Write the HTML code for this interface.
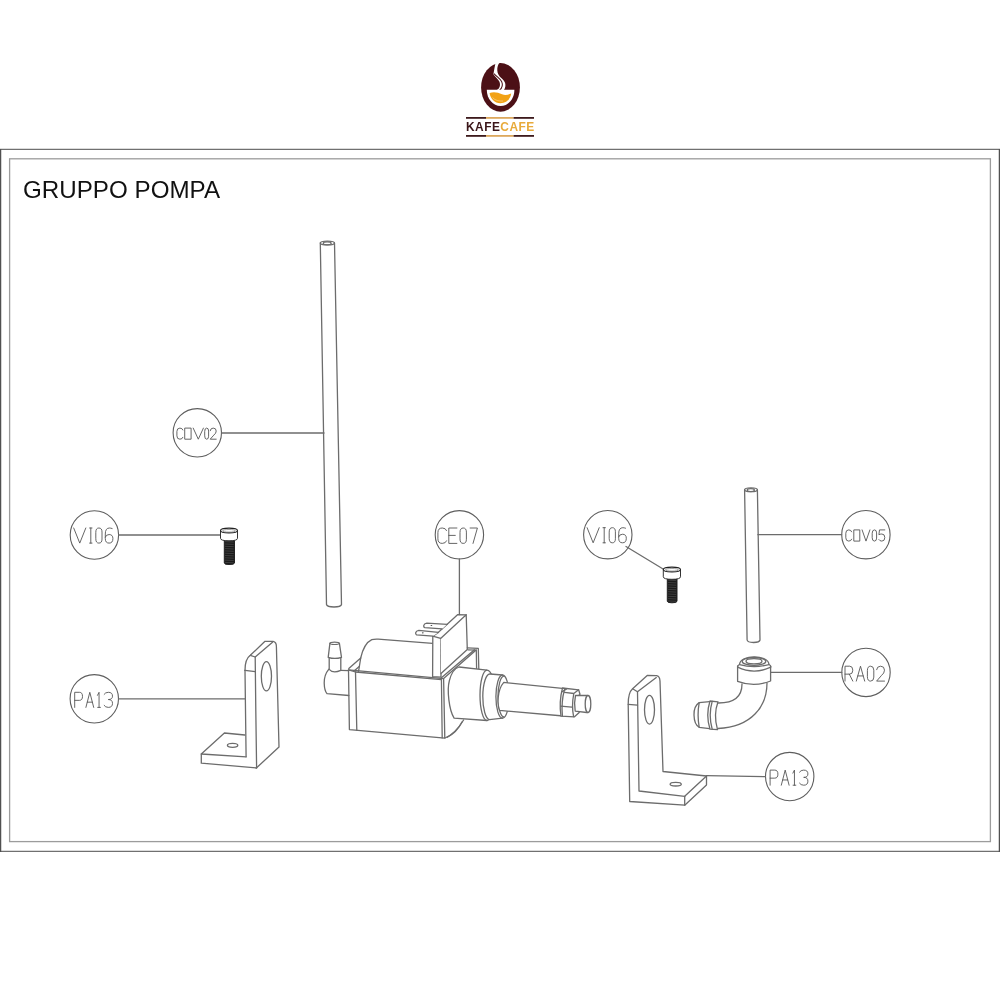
<!DOCTYPE html>
<html><head><meta charset="utf-8">
<style>
html,body{margin:0;padding:0;background:#fff;}
body{width:1000px;height:1000px;position:relative;overflow:hidden;font-family:"Liberation Sans",sans-serif;}
svg{position:absolute;left:0;top:0;will-change:transform;}
</style></head>
<body>
<svg width="1000" height="1000" viewBox="0 0 1000 1000">
<path d="M0,149.4 L1000,149.4 M0,851.4 L1000,851.4" stroke="#707070" stroke-width="1.2" fill="none"/>
<path d="M0.6,149 L0.6,852 M999.4,149 L999.4,852" stroke="#505050" stroke-width="1.3" fill="none"/>
<rect x="9.6" y="158.8" width="980.8" height="682.8" fill="none" stroke="#9c9c9c" stroke-width="1.3"/>
<text x="23" y="198" font-family="Liberation Sans" font-size="23.8" fill="#111" transform="translate(23,0) scale(1.0167,1) translate(-23,0)">GRUPPO POMPA</text>
<circle cx="197.3" cy="432.8" r="24.2" fill="none" stroke="#5e5e5e" stroke-width="1.1"/>
<g fill="none" stroke="#555" stroke-width="0.9" stroke-linecap="round" stroke-linejoin="round"><path transform="translate(176.9,428.1) scale(0.600,0.740)" d="M10,2.5 Q9,0 5,0 Q0,0 0,4.5 L0,10.5 Q0,15 5,15 Q9,15 10,12.5" vector-effect="non-scaling-stroke"/><path transform="translate(185.1,428.1) scale(0.600,0.740)" d="M0,0 L10,0 L10,15 L0,15 Z" vector-effect="non-scaling-stroke"/><path transform="translate(193.2,428.1) scale(1.020,0.740)" d="M0,0 L5,15 L10,0" vector-effect="non-scaling-stroke"/><path transform="translate(204.7,428.1) scale(0.390,0.740)" d="M0,4 Q0,0 5,0 Q10,0 10,4 L10,11 Q10,15 5,15 Q0,15 0,11 Z" vector-effect="non-scaling-stroke"/><path transform="translate(210.2,428.1) scale(0.600,0.740)" d="M0,3.5 Q0.5,0 5,0 Q10,0 10,4 Q10,7 6,9.5 L0,15 L10,15" vector-effect="non-scaling-stroke"/></g>
<circle cx="94.4" cy="535" r="24.2" fill="none" stroke="#5e5e5e" stroke-width="1.1"/>
<g fill="none" stroke="#555" stroke-width="0.9" stroke-linecap="round" stroke-linejoin="round"><path transform="translate(73.7,528.0) scale(1.210,1.007)" d="M0,0 L5,15 L10,0" vector-effect="non-scaling-stroke"/><path transform="translate(88.8,528.0) scale(0.400,1.007)" d="M2,0 L8,0 M5,0 L5,15 M2,15 L8,15" vector-effect="non-scaling-stroke"/><path transform="translate(95.8,528.0) scale(0.620,1.007)" d="M0,4 Q0,0 5,0 Q10,0 10,4 L10,11 Q10,15 5,15 Q0,15 0,11 Z" vector-effect="non-scaling-stroke"/><path transform="translate(105.3,528.0) scale(0.760,1.007)" d="M9,0.5 Q7,0 5.5,0 Q0,0 0,6 L0,10.5 Q0,15 5,15 Q10,15 10,10.5 Q10,6.5 5,6.5 Q1,6.5 0,9" vector-effect="non-scaling-stroke"/></g>
<circle cx="94.3" cy="698.8" r="24.2" fill="none" stroke="#5e5e5e" stroke-width="1.1"/>
<g fill="none" stroke="#555" stroke-width="0.9" stroke-linecap="round" stroke-linejoin="round"><path transform="translate(74.7,692.3) scale(0.780,1.007)" d="M0,15 L0,0 L6,0 Q10,0 10,4 Q10,8 6,8 L0,8" vector-effect="non-scaling-stroke"/><path transform="translate(85.9,692.3) scale(0.780,1.007)" d="M0,15 L5,0 L10,15 M1.8,9.8 L8.2,9.8" vector-effect="non-scaling-stroke"/><path transform="translate(97.1,692.3) scale(0.390,1.007)" d="M1,3 L5,0 L5,15 M1.5,15 L8.5,15" vector-effect="non-scaling-stroke"/><path transform="translate(104.1,692.3) scale(0.840,1.007)" d="M0,2 Q1.5,0 5,0 Q10,0 10,3.8 Q10,7.2 5,7.2 Q10,7.2 10,11 Q10,15 5,15 Q1.5,15 0,13" vector-effect="non-scaling-stroke"/></g>
<circle cx="459.4" cy="534.8" r="24.2" fill="none" stroke="#5e5e5e" stroke-width="1.1"/>
<g fill="none" stroke="#555" stroke-width="0.9" stroke-linecap="round" stroke-linejoin="round"><path transform="translate(437.9,528.0) scale(0.870,1.027)" d="M10,2.5 Q9,0 5,0 Q0,0 0,4.5 L0,10.5 Q0,15 5,15 Q9,15 10,12.5" vector-effect="non-scaling-stroke"/><path transform="translate(448.8,528.0) scale(0.810,1.027)" d="M10,0 L0,0 L0,15 L10,15 M0,7.2 L8,7.2" vector-effect="non-scaling-stroke"/><path transform="translate(460.0,528.0) scale(0.640,1.027)" d="M0,4 Q0,0 5,0 Q10,0 10,4 L10,11 Q10,15 5,15 Q0,15 0,11 Z" vector-effect="non-scaling-stroke"/><path transform="translate(470.1,528.0) scale(0.730,1.027)" d="M0,0 L10,0 L4,15" vector-effect="non-scaling-stroke"/></g>
<circle cx="607.8" cy="534.7" r="24.2" fill="none" stroke="#5e5e5e" stroke-width="1.1"/>
<g fill="none" stroke="#555" stroke-width="0.9" stroke-linecap="round" stroke-linejoin="round"><path transform="translate(587.1,527.7) scale(1.210,1.007)" d="M0,0 L5,15 L10,0" vector-effect="non-scaling-stroke"/><path transform="translate(602.2,527.7) scale(0.400,1.007)" d="M2,0 L8,0 M5,0 L5,15 M2,15 L8,15" vector-effect="non-scaling-stroke"/><path transform="translate(609.2,527.7) scale(0.620,1.007)" d="M0,4 Q0,0 5,0 Q10,0 10,4 L10,11 Q10,15 5,15 Q0,15 0,11 Z" vector-effect="non-scaling-stroke"/><path transform="translate(618.7,527.7) scale(0.760,1.007)" d="M9,0.5 Q7,0 5.5,0 Q0,0 0,6 L0,10.5 Q0,15 5,15 Q10,15 10,10.5 Q10,6.5 5,6.5 Q1,6.5 0,9" vector-effect="non-scaling-stroke"/></g>
<circle cx="865.9" cy="534.7" r="24.2" fill="none" stroke="#5e5e5e" stroke-width="1.1"/>
<g fill="none" stroke="#555" stroke-width="0.9" stroke-linecap="round" stroke-linejoin="round"><path transform="translate(845.8,529.9) scale(0.590,0.747)" d="M10,2.5 Q9,0 5,0 Q0,0 0,4.5 L0,10.5 Q0,15 5,15 Q9,15 10,12.5" vector-effect="non-scaling-stroke"/><path transform="translate(854.2,529.9) scale(0.560,0.747)" d="M0,0 L10,0 L10,15 L0,15 Z" vector-effect="non-scaling-stroke"/><path transform="translate(862.1,529.9) scale(0.780,0.747)" d="M0,0 L5,15 L10,0" vector-effect="non-scaling-stroke"/><path transform="translate(872.2,529.9) scale(0.440,0.747)" d="M0,4 Q0,0 5,0 Q10,0 10,4 L10,11 Q10,15 5,15 Q0,15 0,11 Z" vector-effect="non-scaling-stroke"/><path transform="translate(878.9,529.9) scale(0.590,0.747)" d="M10,0 L1,0 L0,6.5 Q2,5.5 5,5.5 Q10,5.5 10,10.2 Q10,15 5,15 Q1.5,15 0,13" vector-effect="non-scaling-stroke"/></g>
<circle cx="866.0" cy="672.4" r="24.2" fill="none" stroke="#5e5e5e" stroke-width="1.1"/>
<g fill="none" stroke="#555" stroke-width="0.9" stroke-linecap="round" stroke-linejoin="round"><path transform="translate(845.0,666.2) scale(0.780,0.993)" d="M0,15 L0,0 L6,0 Q10,0 10,4 Q10,8 6,8 L0,8 M5.5,8 L10,15" vector-effect="non-scaling-stroke"/><path transform="translate(856.3,666.2) scale(0.840,0.993)" d="M0,15 L5,0 L10,15 M1.8,9.8 L8.2,9.8" vector-effect="non-scaling-stroke"/><path transform="translate(867.4,666.2) scale(0.640,0.993)" d="M0,4 Q0,0 5,0 Q10,0 10,4 L10,11 Q10,15 5,15 Q0,15 0,11 Z" vector-effect="non-scaling-stroke"/><path transform="translate(876.6,666.2) scale(0.790,0.993)" d="M0,3.5 Q0.5,0 5,0 Q10,0 10,4 Q10,7 6,9.5 L0,15 L10,15" vector-effect="non-scaling-stroke"/></g>
<circle cx="789.7" cy="776.6" r="24.2" fill="none" stroke="#5e5e5e" stroke-width="1.1"/>
<g fill="none" stroke="#555" stroke-width="0.9" stroke-linecap="round" stroke-linejoin="round"><path transform="translate(770.1,770.1) scale(0.780,1.007)" d="M0,15 L0,0 L6,0 Q10,0 10,4 Q10,8 6,8 L0,8" vector-effect="non-scaling-stroke"/><path transform="translate(781.3,770.1) scale(0.780,1.007)" d="M0,15 L5,0 L10,15 M1.8,9.8 L8.2,9.8" vector-effect="non-scaling-stroke"/><path transform="translate(792.5,770.1) scale(0.390,1.007)" d="M1,3 L5,0 L5,15 M1.5,15 L8.5,15" vector-effect="non-scaling-stroke"/><path transform="translate(799.5,770.1) scale(0.840,1.007)" d="M0,2 Q1.5,0 5,0 Q10,0 10,3.8 Q10,7.2 5,7.2 Q10,7.2 10,11 Q10,15 5,15 Q1.5,15 0,13" vector-effect="non-scaling-stroke"/></g>
<g fill="none" stroke="#6c6c6c" stroke-width="1.3" stroke-linejoin="round" stroke-linecap="round"><path d="M320.3,243 L326.5,604.5 Q327,606.8 334,607 Q341,606.8 341.5,604.5 L334.5,243"/>
<ellipse cx="327.4" cy="243" rx="7.1" ry="1.9"/>
<ellipse cx="327.2" cy="243.3" rx="4.0" ry="1.5"/>
<path d="M744.6,490 L747.1,640 Q747.5,642.3 753.5,642.5 Q759.5,642.3 760,640 L757.4,490"/>
<ellipse cx="751" cy="489.8" rx="6.4" ry="1.9"/>
<ellipse cx="750.8" cy="490.1" rx="3.6" ry="1.5"/>
<path d="M221.5,433 L324,433"/>
<path d="M118.7,535 L220.5,535"/>
<path d="M118.5,698.8 L244.8,698.8"/>
<path d="M459.4,559 L459.4,614.6"/>
<path d="M626,546.5 L663.5,569.2"/>
<path d="M757.9,534.7 L841.7,534.7"/>
<path d="M770.6,672.4 L841.8,672.4"/>
<path d="M706.5,775.6 L765.5,776.6"/>
<path d="M245,670.3 L246.1,756.8"/>
<path d="M245,670.3 C245,662 246.5,658 250.3,655.3 L265,641.3 L273.2,641.3 C275.5,641.8 276.4,643.5 276.4,646.5 L279,747 L256.6,767.8"/>
<path d="M255.2,657 C255.2,672 256.6,767.8 256.6,767.8"/>
<path d="M245,670.3 L255.3,671.7"/>
<path d="M250.3,655.3 L255.2,657 L272.5,642.2"/>
<ellipse cx="266.4" cy="676.3" rx="5.1" ry="14.6"/>
<path d="M246.1,756.8 L201.3,754 L224.4,733 L244.8,735"/>
<path d="M201.3,754 L201.3,763.2 L256.6,768"/>
<ellipse cx="232.6" cy="745.3" rx="5.2" ry="2"/>
<path d="M628.2,704.2 L629.7,801.5 L684.7,805.2 L706.5,785 L706.5,776 L663,771.5 L660,681 C659.8,677.5 658.5,675.8 656.5,675.6 L647.2,675.5 L632.6,688.8 C629.5,691.5 628.2,695 628.2,704.2"/>
<path d="M637.5,691.8 L639,791 L684.7,796.3 L706.5,776"/>
<path d="M684.7,796.3 L684.7,805.2"/>
<path d="M628.2,704.3 L637.5,705.2"/>
<path d="M632.6,688.8 L637.5,691.8 L656.3,677.6"/>
<ellipse cx="649.5" cy="709.7" rx="5" ry="14.4"/>
<ellipse cx="675.7" cy="784.2" rx="5.6" ry="1.8"/>
<path d="M767,683 C767,706 752,727 718,728.5"/>
<path d="M742,684 C742,697 733,703 718.5,703"/>
<path d="M737.6,666 L737.6,681.3 Q754,687.5 770.6,681 L770.6,666"/>
<path d="M737.6,667.2 Q754,675 770.8,667.2"/>
<path d="M737.6,666.5 Q738.5,664.8 739.5,664.5 M770.8,666.5 Q770,664.8 769,664.5"/>
<path d="M739.5,664.6 C740,654.2 768.5,654.2 769,664.6 Q754,668.5 739.5,664.6"/>
<ellipse cx="754" cy="661.4" rx="11.8" ry="3.9"/>
<ellipse cx="754" cy="661.2" rx="8" ry="2.6"/>
<path d="M710,701 Q705.5,715 710,729.2 L717.5,729.6 Q713.2,715 718,701.8 Z" fill="#fff"/>
<path d="M712.2,701.4 Q708.2,715 712.2,729.3"/>
<path d="M709.6,701.6 L699.2,702.6 Q693.8,706 694,715 Q694.2,724.5 699.2,727.3 L709.5,728.6"/>
<path d="M699.2,702.6 Q697,714.5 699.2,727.3"/>
<path d="M348.4,670.6 L340.8,670.3 M328.7,669.3 Q324,675 324.2,683 Q324.4,691 327.1,693.7 L348.8,695.5"/>
<path d="M329.2,658 L329.2,669.3 Q333,673.8 340.8,670.3 L340.8,658"/>
<path d="M329.9,643.3 L328.2,657.3 Q334.8,659.6 341.5,657.3 L339.4,643.3" fill="#fff"/>
<ellipse cx="334.6" cy="643.3" rx="4.7" ry="1.2" stroke-width="1.2"/>
<path d="M348.5,669.8 L349.4,729.6 L444.8,738.2 L443.6,678.6 Z"/>
<path d="M355.5,672 L356.8,730.3"/>
<path d="M441.4,678.6 L442.2,737.9"/>
<path d="M355.5,672 L441.4,679.6"/>
<path d="M348.5,669.8 L355.5,672"/>
<path d="M348.8,668.6 L360.7,658 L358.8,670 L358.4,671.5"/>
<path d="M353.8,671.2 L359.2,666.5"/>
<path d="M360.7,658 C362.5,650 366.5,642.2 371.8,639.7 Q374,638.9 378.2,639.1 L432.6,643.4"/>
<path d="M432.8,636.2 L432.6,676.6 L441,677.2 L440.6,638.4 Z" fill="#fff"/>
<path d="M440.6,638.4 L466.2,614.8 L467.3,649.5 L441,673.5" fill="#fff"/>
<path d="M432.8,636.2 L438.4,632.4 M442.2,628.8 L447.2,624.3 L457.8,614.6 L466.2,614.8"/>
<path d="M447.2,624.3 L426.8,623.2 C423.2,623.8 423,627 424.8,627.7 L442.2,628.8 L438.4,632.4" fill="#fff"/>
<ellipse cx="431.4" cy="625.4" rx="0.9" ry="0.5" fill="#444" stroke="none"/>
<path d="M438.4,632.4 L418.8,630.4 C415.2,631 415,634 416.6,634.8 L433,636.1" fill="#fff"/>
<ellipse cx="422.8" cy="632.8" rx="0.9" ry="0.6" fill="#444" stroke="none"/>
<path d="M443.6,678.6 L476.2,650 M441.4,677.8 L474.4,649.8"/>
<path d="M467.3,647.9 L478.3,648.4 L478.8,669 M468,649.8 L476.3,650.2 L476.6,669"/>
<path d="M445,738 Q455,734 463.6,720"/>
<path d="M447,737.3 Q456.5,733 462,722"/>
<path d="M459,667 L487,670.1 A8,25.2 0 0 1 487,720.5 L454.1,718.1 C449,710 446.8,690 449.4,680.5 C451.2,673.5 455,668.2 459,667 Z" fill="#fff"/>
<path d="M487,670.1 A7,25.2 0 0 0 487,720.5"/>
<path d="M490,674 L502.5,675 A6.6,21.6 0 0 1 502.5,718.2 L489.6,719.6 A7,22.8 0 0 1 490,674 Z" fill="#fff"/>
<path d="M502.5,675 A6.6,21.6 0 0 0 502.5,718.2 M504,676.2 A6,20.4 0 0 0 504,717"/>
<path d="M503.8,682.4 L564.8,688.6 L563.4,716 L499.6,710.4 C497.2,705 497,690 503.8,682.4 Z" fill="#fff"/>
<path d="M562.5,688 Q558.8,702 561,716.2 L574.5,716.8 L579.2,712.6 L579.2,695 L580,694.2 L578.6,689.8 Z" fill="#fff"/>
<path d="M564.6,689.2 Q561,702 562.4,715.8"/>
<path d="M562.3,691.6 L566.6,689 M564.6,692.4 L573.8,693.5 L578.6,689.8 M573.8,693.5 Q571.4,706 573.6,716.6 M560.6,706.2 L571.8,707.2"/>
<path d="M575.5,695.5 L588,695.5 L588,712.5 L586.7,712.5 L575.2,711.2 Q573.8,703 575.5,695.5 Z" fill="#fff"/>
<ellipse cx="588" cy="704" rx="2.8" ry="8.5" fill="#fff"/></g>
<g stroke-linejoin="round"><path d="M224.3,539.5 L224.3,563.0 Q224.3,564.5 229.0,564.5 Q234.5,564.5 234.5,563.0 L234.5,539.5 Z" fill="#1a1a1a" stroke="#222"/>
<path d="M225.10000000000002,541.7 L233.7,542.1" stroke="#555" stroke-width="0.6"/>
<path d="M225.10000000000002,544.0 L233.7,544.4" stroke="#555" stroke-width="0.6"/>
<path d="M225.10000000000002,546.3 L233.7,546.7" stroke="#555" stroke-width="0.6"/>
<path d="M225.10000000000002,548.6 L233.7,549.0" stroke="#555" stroke-width="0.6"/>
<path d="M225.10000000000002,550.9 L233.7,551.3" stroke="#555" stroke-width="0.6"/>
<path d="M225.10000000000002,553.2 L233.7,553.6" stroke="#555" stroke-width="0.6"/>
<path d="M225.10000000000002,555.5 L233.7,555.9" stroke="#555" stroke-width="0.6"/>
<path d="M225.10000000000002,557.8 L233.7,558.2" stroke="#555" stroke-width="0.6"/>
<path d="M225.10000000000002,560.1 L233.7,560.5" stroke="#555" stroke-width="0.6"/>
<path d="M225.10000000000002,562.4 L233.7,562.8" stroke="#555" stroke-width="0.6"/>
<path d="M220.5,530.5 L220.5,538.3 Q220.5,540.8 229.0,540.8 Q237.5,540.8 237.5,538.3 L237.5,530.5" fill="#fff" stroke="#333" stroke-width="1"/>
<ellipse cx="229.0" cy="530.5" rx="8.5" ry="2.4" fill="#fff" stroke="#222" stroke-width="1.1"/>
<ellipse cx="229.0" cy="530.8" rx="6.5" ry="1.3" fill="none" stroke="#777" stroke-width="0.7"/>
<path d="M667.3,578 L667.3,601.3 Q667.3,602.8 671.9,602.8 Q677,602.8 677,601.3 L677,578 Z" fill="#1a1a1a" stroke="#222"/>
<path d="M668.0999999999999,580.2 L676.2,580.6" stroke="#555" stroke-width="0.6"/>
<path d="M668.0999999999999,582.5 L676.2,582.9" stroke="#555" stroke-width="0.6"/>
<path d="M668.0999999999999,584.8 L676.2,585.2" stroke="#555" stroke-width="0.6"/>
<path d="M668.0999999999999,587.1 L676.2,587.5" stroke="#555" stroke-width="0.6"/>
<path d="M668.0999999999999,589.4 L676.2,589.8" stroke="#555" stroke-width="0.6"/>
<path d="M668.0999999999999,591.7 L676.2,592.1" stroke="#555" stroke-width="0.6"/>
<path d="M668.0999999999999,594.0 L676.2,594.4" stroke="#555" stroke-width="0.6"/>
<path d="M668.0999999999999,596.3 L676.2,596.7" stroke="#555" stroke-width="0.6"/>
<path d="M668.0999999999999,598.6 L676.2,599.0" stroke="#555" stroke-width="0.6"/>
<path d="M668.0999999999999,600.9 L676.2,601.3" stroke="#555" stroke-width="0.6"/>
<path d="M663.3,569.5 L663.3,576.8 Q663.3,579.3 671.9,579.3 Q680.5,579.3 680.5,576.8 L680.5,569.5" fill="#fff" stroke="#333" stroke-width="1"/>
<ellipse cx="671.9" cy="569.5" rx="8.600000000000023" ry="2.4" fill="#fff" stroke="#222" stroke-width="1.1"/>
<ellipse cx="671.9" cy="569.8" rx="6.600000000000023" ry="1.3" fill="none" stroke="#777" stroke-width="0.7"/></g>
<ellipse cx="500.5" cy="87.4" rx="19.4" ry="24.3" fill="#4c1016"/>
<path d="M495.6,62.5 C494.8,66 494.2,70 493.4,74.2 C495,76.6 497.8,79 499.2,81.2 C500.4,83.5 500.3,86.5 498.8,88.4 L496.6,90.2 L503.8,90.2 C505.7,88 505.8,84.5 504.8,82.3 C503.6,79.8 501.2,77.8 499.7,76.4 C497.7,74.4 497.1,71.2 497.3,68.6 C497.5,66.4 498.2,64.6 499.4,62.8 Z" fill="#fff"/>
<path d="M494,73.6 C496.4,76.4 500.2,78.8 501.6,81.4 C502.9,84.4 502.5,87.6 499.6,90.2" fill="none" stroke="#4c1016" stroke-width="1.05"/>
<path d="M486.8,89.8 L514.4,89.8 C514.4,99 508.2,106 500.6,106 C493,106 486.8,99 486.8,89.8 Z" fill="#fff"/>
<path d="M489.6,93 C494,91.4 498,92.5 502,94.3 C505.5,95.8 508.2,94.6 511.2,93.6 C510.4,99.5 506,103.2 500.5,103.2 C494.6,103.2 490.4,99 489.6,93 Z" fill="#f2a214"/>
<path d="M492.5,97.5 C495,100.5 499,101.3 503,101" fill="none" stroke="#f7d9a0" stroke-width="0.6"/>
<rect x="466" y="117.0" width="20" height="1.8" fill="#3d1a1c"/>
<rect x="486" y="117.0" width="27.6" height="1.8" fill="#dca85e"/>
<rect x="513.6" y="117.0" width="20.4" height="1.8" fill="#3d1a1c"/>
<rect x="466" y="135.0" width="20" height="1.8" fill="#3d1a1c"/>
<rect x="486" y="135.0" width="27.6" height="1.8" fill="#dca85e"/>
<rect x="513.6" y="135.0" width="20.4" height="1.8" fill="#3d1a1c"/>
<text x="466" y="130.8" font-family="Liberation Sans" font-weight="bold" font-size="11.9" textLength="68.2" lengthAdjust="spacing"><tspan fill="#3b1619">KAFE</tspan><tspan fill="#e8aa3a">CAFE</tspan></text>
</svg>
</body></html>
